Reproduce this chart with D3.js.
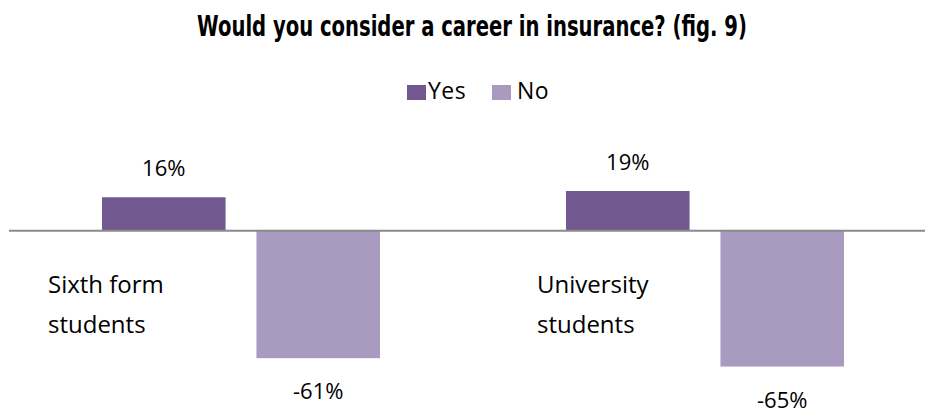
<!DOCTYPE html>
<html>
<head>
<meta charset="utf-8">
<script src="https://cdn.jsdelivr.net/npm/d3@7"></script>
<style>
  html, body { margin: 0; padding: 0; background: #ffffff; }
  svg { display: block; }
</style>
</head>
<body>
<div id="chart"></div>
<script>
// ---- Data ----
const title = "Would you consider a career in insurance? (fig. 9)";
const categories = ["Sixth form students", "University students"];
const categoryLines = [["Sixth form", "students"], ["University", "students"]];
const seriesNames = ["Yes", "No"];
const yesValues = [16, 19];
const noValues = [-61, -65];
const seriesColors = ["#71588f", "#a99abf"];

// ---- Layout ----
const W = 925, H = 416;
const bodyFont = "'Open Sans', 'Noto Sans', sans-serif";
const catLabelDx = [39, 64];

const svg = d3.select("#chart").append("svg")
  .attr("width", W).attr("height", H);

const data = categories.map((c, i) => ({
  cat: c, i,
  vals: [{ s: "Yes", v: yesValues[i] }, { s: "No", v: noValues[i] }]
}));

const x0 = d3.scaleBand().domain(categories).range([9, 937]).padding(0);
const x1 = d3.scaleBand().domain(seriesNames).range([93, 371]).paddingInner(0.2).paddingOuter(0);
const y = d3.scaleLinear().domain([-70, 30]).range([377, 168]);
const color = d3.scaleOrdinal().domain(seriesNames).range(seriesColors);

// Title (condensed bold, horizontally fitted to the reference width)
const titleG = svg.append("g");
const titleText = titleG.append("text")
  .attr("x", 0).attr("y", 0)
  .attr("text-anchor", "middle")
  .attr("font-family", "'Liberation Sans Narrow', 'DejaVu Sans Condensed', 'Liberation Sans', sans-serif")
  .attr("font-weight", "bold")
  .attr("font-size", 29)
  .attr("fill", "#000")
  .text(title);
const natural = titleText.node().getComputedTextLength() || 550;
const sx = 550 / natural;
titleG.attr("transform", `translate(472,36) scale(${sx},1)`);

// Legend
const legend = svg.append("g");
const legendItems = [{ s: "Yes", x: 407, tx: 428 }, { s: "No", x: 492, tx: 517 }];
legendItems.forEach(li => {
  legend.append("rect")
    .attr("x", li.x).attr("y", 85).attr("width", 19).attr("height", 15)
    .attr("fill", color(li.s));
  legend.append("text")
    .attr("x", li.tx).attr("y", 99)
    .attr("font-family", bodyFont).attr("font-size", 23)
    .attr("letter-spacing", 0.5)
    .attr("fill", "#000")
    .text(li.s);
});

// Bars
const groups = svg.selectAll("g.grp").data(data).enter().append("g")
  .attr("class", "grp")
  .attr("transform", d => `translate(${x0(d.cat)},0)`);

groups.selectAll("rect").data(d => d.vals).enter().append("rect")
  .attr("x", d => x1(d.s))
  .attr("width", x1.bandwidth())
  .attr("y", d => Math.min(y(d.v), y(0)))
  .attr("height", d => Math.abs(y(d.v) - y(0)))
  .attr("fill", d => color(d.s));

// Value labels
groups.selectAll("text.val").data(d => d.vals).enter().append("text")
  .attr("class", "val")
  .attr("x", d => x1(d.s) + x1.bandwidth() / 2)
  .attr("y", d => d.v >= 0 ? y(d.v) - 21 : y(d.v) + 41)
  .attr("text-anchor", "middle")
  .attr("font-family", bodyFont).attr("font-size", 22)
  .attr("fill", "#000")
  .text(d => d.v + "%");

// Zero axis line
svg.append("line")
  .attr("x1", 9).attr("x2", W)
  .attr("y1", y(0)).attr("y2", y(0))
  .attr("stroke", "#8a8a8a").attr("stroke-width", 2);

// Category labels
groups.each(function (d) {
  const g = d3.select(this);
  const t = g.append("text")
    .attr("font-family", bodyFont).attr("font-size", 24)
    .attr("fill", "#000");
  categoryLines[d.i].forEach((line, k) => {
    t.append("tspan")
      .attr("x", catLabelDx[d.i])
      .attr("y", 293 + k * 39.5)
      .text(line);
  });
});
</script>
</body>
</html>
